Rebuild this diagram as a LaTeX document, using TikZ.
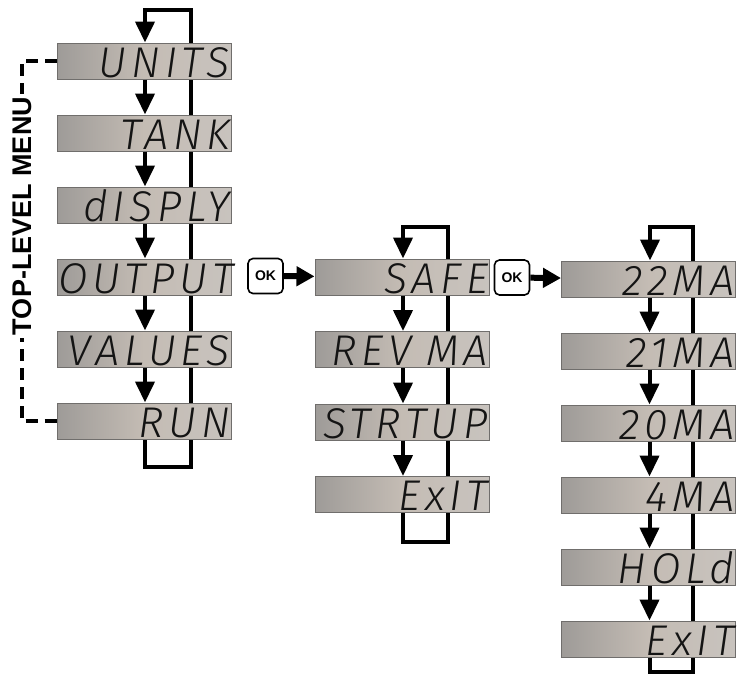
\documentclass[tikz,border=0pt]{standalone}
\usepackage{fontspec}
\setsansfont{Liberation Sans}
\newfontfamily\lcdfont[LetterSpace=11]{Fira Sans Light Italic}
\usetikzlibrary{arrows.meta,calc,backgrounds}
\definecolor{lcdL}{RGB}{158,155,152}
\definecolor{lcdM}{RGB}{196,188,180}
\definecolor{lcdR}{RGB}{200,195,190}
\definecolor{lcdframe}{RGB}{112,110,108}
\definecolor{lcdink}{RGB}{20,20,20}

\begin{document}
\begin{tikzpicture}[x=1pt, y=-1pt, >={Triangle[width=19pt,length=21pt]},
      lcd/.style={draw=lcdframe, line width=1pt, left color=lcdL, right color=lcdR, middle color=lcdM,
        text width=172pt, align=right, inner xsep=1pt, inner ysep=2pt, text height=32pt, text depth=0pt,
        font=\lcdfont\fontsize{43}{43}\selectfont, text=lcdink},
      flow/.style={->, line width=4pt},
      okbox/.style={draw, line width=1.6pt, rounded corners=5pt, minimum size=35pt, inner sep=0pt,
        fill=white, font=\sffamily\bfseries\fontsize{14}{14}\selectfont},
      okarrow/.style={-{Triangle[width=19pt,length=18pt]}, line width=6pt},
      menuline/.style={line width=4pt, dash pattern=on 12pt off 7pt},
      menulabel/.style={rotate=90, fill=white, inner sep=3pt, font=\sffamily\bfseries\fontsize{27}{27}\selectfont}]
    \useasboundingbox (0,0) rectangle (742,673);
    % top-level menu
    \node[lcd] (units) at (144,61) {UNITS};
    \node[lcd] (tank) at (144,133) {TANK};
    \node[lcd] (disply) at (144,205) {dISPLY};
    \node[lcd] (output) at (144,277) {OUTPUT};
    \node[lcd] (values) at (144,349) {VALUES};
    \node[lcd] (run) at (144,421) {RUN};
    % output menu
    \node[okbox] (ok1) at (265.5,276) {OK};
    \node[lcd] (safe) at (402,277) {SAFE};
    \node[lcd] (revma) at (402,349.5) {REV MA};
    \node[lcd] (strtup) at (402,422) {STRTUP};
    \node[lcd] (exit1) at (402,494.5) {ExIT};
    % safe menu
    \node[okbox] (ok2) at (512,277.5) {OK};
    \node[lcd] (ma22) at (648.5,279) {22MA};
    \node[lcd] (ma21) at (648.5,351) {21MA};
    \node[lcd] (ma20) at (648.5,423) {20MA};
    \node[lcd] (ma4) at (648.5,495) {4MA};
    \node[lcd] (hold) at (648.5,567) {HOLd};
    \node[lcd] (exit2) at (648.5,639) {ExIT};

    \foreach \a/\b in {units/tank, tank/disply, disply/output, output/values, values/run,
        safe/revma, revma/strtup, strtup/exit1,
        ma22/ma21, ma21/ma20, ma20/ma4, ma4/hold, hold/exit2}
      \draw[flow] ([xshift=1pt]\a.south) -- ([xshift=1pt]\b.north);

    \coordinate (top1) at ($(units.north)+(1,-33)$);
    \coordinate (top2) at ($(safe.north)+(1,-32)$);
    \coordinate (top3) at ($(ma22.north)+(1.5,-34)$);
    \begin{pgfonlayer}{background}
      \draw[flow] ([xshift=1pt]run.south) -- ++(0,27) -- ++(46,0) |- (top1) -- ([xshift=1pt]units.north);
      \draw[flow] ([xshift=1pt]exit1.south) -- ++(0,29) -- ++(45,0) |- (top2) -- ([xshift=1pt]safe.north);
      \draw[flow] ([xshift=1.5pt]exit2.south) -- ++(0,14) -- ++(43,0) |- (top3) -- ([xshift=1.5pt]ma22.north);
    \end{pgfonlayer}

    \draw[okarrow] (ok1) -- (safe);
    \draw[okarrow] (ok2) -- (ma22);

    \draw[menuline] (units.west) -- ++(-35,0) |- (run.west);
    \node[menulabel] (menu) at (22,216) {TOP-LEVEL MENU};
  \end{tikzpicture}
\end{document}
